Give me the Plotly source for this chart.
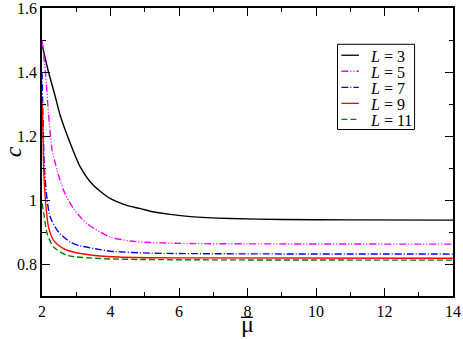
import plotly.graph_objects as go

# values (mu-bar, c)
x_L3 = [2.0, 2.03, 2.19, 2.39, 2.53, 2.83, 3.12, 3.5, 4.0, 4.48, 4.87, 5.16, 5.74, 6.33, 7.5, 9, 11, 14]
c_L3 = [1.49, 1.473, 1.40, 1.322, 1.265, 1.176, 1.103, 1.046, 1.004, 0.983, 0.973, 0.965, 0.955, 0.948, 0.942, 0.939, 0.938, 0.937]

x_L5 = [2.0, 2.1, 2.19, 2.29, 2.44, 2.63, 2.92, 3.31, 3.7, 4.0, 4.57, 5.16, 6.33, 8, 14]
c_L5 = [1.50, 1.40, 1.27, 1.16, 1.093, 1.03, 0.973, 0.926, 0.90, 0.884, 0.872, 0.867, 0.864, 0.863, 0.862]

x_L7 = [2.0, 2.03, 2.07, 2.15, 2.24, 2.48, 2.83, 3.06, 3.7, 4.0, 5.16, 7, 14]
c_L7 = [1.40, 1.25, 1.10, 1.0, 0.947, 0.90, 0.868, 0.858, 0.845, 0.840, 0.834, 0.832, 0.831]

x_L9 = [2.0, 2.03, 2.05, 2.1, 2.19, 2.34, 2.63, 3.0, 3.7, 4.22, 6, 14]
c_L9 = [1.31, 1.20, 1.10, 1.0, 0.916, 0.874, 0.848, 0.835, 0.825, 0.822, 0.819, 0.818]

x_L11 = [2.0, 2.05, 2.15, 2.34, 2.73, 3.7, 5, 14]
c_L11 = [0.99, 0.96, 0.895, 0.853, 0.827, 0.817, 0.814, 0.812]

series = [
    ("<i>L</i> = 3", x_L3, c_L3, "black", "solid"),
    ("<i>L</i> = 5", x_L5, c_L5, "#ff00ff", "7px,2px,1px,2px,1px,2px"),
    ("<i>L</i> = 7", x_L7, c_L7, "#0000ff", "7px,2px,1px,2px"),
    ("<i>L</i> = 9", x_L9, c_L9, "#ff0000", "solid"),
    ("<i>L</i> = 11", x_L11, c_L11, "#008000", "6px,3px"),
]

serif = "Liberation Serif, Times New Roman, serif"

fig = go.Figure()
for name, xs, ys, col, dash in series:
    fig.add_trace(go.Scatter(x=xs, y=ys, name=name, mode="lines", showlegend=False,
                             line=dict(color=col, width=1.4, dash=dash,
                                       shape="spline", smoothing=0.7)))

# legend box drawn by hand so its rows can sit as tight as in the original
fig.add_shape(type="rect", xref="paper", yref="paper", x0=0.719, x1=0.9065, y0=0.578, y1=0.874,
              line=dict(color="black", width=1), fillcolor="white", layer="above")
for i, (name, xs, ys, col, dash) in enumerate(series):
    yy = 0.836 - i * 0.0557
    fig.add_shape(type="line", xref="paper", yref="paper", x0=0.7285, x1=0.771, y0=yy, y1=yy,
                  line=dict(color=col, width=1.3, dash=dash), layer="above")
    fig.add_annotation(xref="paper", yref="paper", x=0.793, y=yy - 0.004, text=name,
                       showarrow=False, xanchor="left", yanchor="middle",
                       font=dict(family=serif, size=16, color="black"))

# x-axis title: mu with an overbar
fig.add_annotation(xref="paper", yref="paper", x=0.5, y=-0.096, text="μ", showarrow=False,
                   xanchor="center", yanchor="middle", font=dict(family=serif, size=24, color="black"))
fig.add_shape(type="line", xref="paper", yref="paper", x0=0.484, x1=0.513, y0=-0.074, y1=-0.074,
              line=dict(color="black", width=1.3))

axis_common = dict(showgrid=False, zeroline=False, showline=True, linecolor="black",
                   linewidth=1.5, mirror="allticks", ticks="inside", ticklen=8,
                   tickwidth=1, tickcolor="black", automargin=False, ticklabeloverflow="allow",
                   tickfont=dict(family=serif, size=16, color="black"))

fig.update_xaxes(range=[2, 14], dtick=2, tick0=2,
                 minor=dict(dtick=1, ticks="inside", ticklen=4, tickcolor="black"),
                 **axis_common)
fig.update_yaxes(range=[0.7, 1.6000001], dtick=0.2, tick0=0.8,
                 minor=dict(dtick=0.1, ticks="inside", ticklen=4, tickcolor="black"),
                 title=dict(text="<i>c</i>", font=dict(family=serif, size=24, color="black"), standoff=4),
                 **axis_common)

fig.update_layout(
    width=463, height=339,
    margin=dict(l=42, r=10, t=8, b=43),
    plot_bgcolor="white", paper_bgcolor="white",
    font=dict(family=serif, color="black"),
    showlegend=False,
)

fig.write_html("out.html", config={"displayModeBar": False},
               post_script="document.body.style.margin='0';")
